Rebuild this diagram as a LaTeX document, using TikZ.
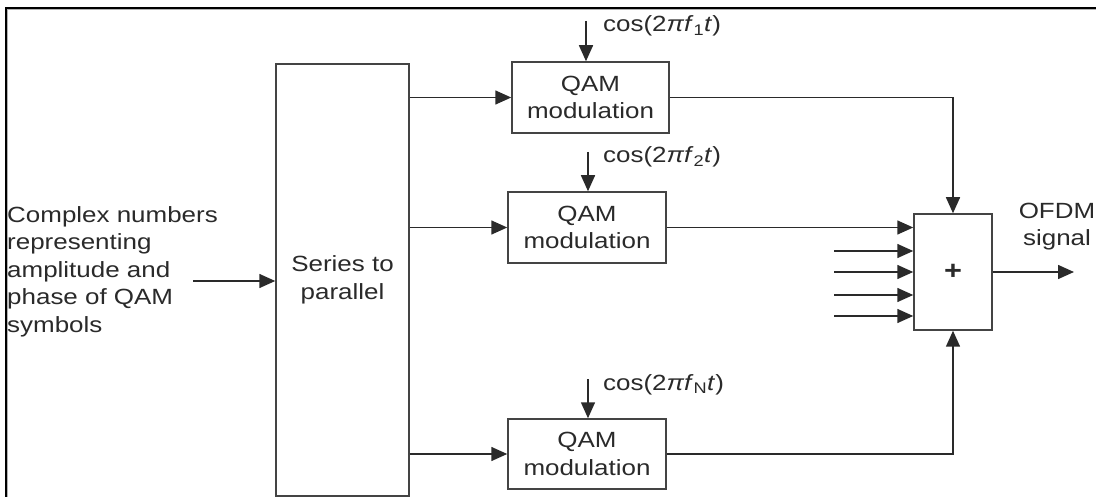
\documentclass[tikz,border=0pt]{standalone}
\usepackage{fontspec}
\setmainfont{Liberation Sans}[FakeStretch=1.18]
\usetikzlibrary{arrows.meta}
\definecolor{ink}{HTML}{2A2A2A}
\definecolor{boxline}{HTML}{444444}
\newcommand\dfont{\fontsize{22}{27.5}\selectfont}
\begin{document}
\begin{tikzpicture}[x=1pt,y=-1pt,
  blk/.style={draw=boxline, line width=1.5pt, inner sep=0pt, align=center,
              font=\dfont, text=ink},
  lbl/.style={inner sep=0pt, font=\dfont, text=ink},
  wire/.style={draw=ink, line width=1.5pt},
  arr/.style={wire, -{Triangle[length=16pt,width=14pt]}}]
\useasboundingbox (0,0) rectangle (1096,497);
\fill[white] (0,0) rectangle (1096,497);

% outer frame (only top and left edges are inside the page)
\draw[gray!60, line width=1pt] (7.8,497) -- (7.8,9.8) -- (1096,9.8);
\draw[black, line width=2.2pt] (6,497) -- (6,7.8) -- (1096,7.8);

% blocks
\node[blk, minimum width=133pt, minimum height=432pt] (s2p) at (342.5,280) {Series to\\parallel};
\node[blk, minimum width=157pt, minimum height=71pt] (q1) at (590.5,97.5) {QAM\\modulation};
\node[blk, minimum width=158pt, minimum height=71pt] (q2) at (587,227.5) {QAM\\modulation};
\node[blk, minimum width=158pt, minimum height=70pt] (qN) at (587,454) {QAM\\modulation};
\node[blk, minimum width=78pt, minimum height=116pt, font=\bfseries\fontsize{26}{26}\selectfont] (sum) at (953,272) {+};

% input text and arrow
\node[lbl, anchor=north west, align=left] (src) at (7,206)
  {Complex numbers\\representing\\amplitude and\\phase of QAM\\symbols};
\coordinate (in) at (193,281);
\draw[arr] (in) -- (in -| s2p.west);

% serial-to-parallel outputs
\draw[arr] (s2p.east |- q1.west) -- (q1.west);
\draw[arr] (s2p.east |- q2.west) -- (q2.west);
\draw[arr] (s2p.east |- qN.west) -- (qN.west);

% carrier inputs
\coordinate (c1) at (586,21);
\coordinate (c2) at (588,152);
\coordinate (cN) at (588,379);
\draw[arr] (c1) -- (c1 |- q1.north);
\draw[arr] (c2) -- (c2 |- q2.north);
\draw[arr] (cN) -- (cN |- qN.north);
\node[lbl, anchor=base west] (l1) at (603,32) {cos(2\textit{πf}\textsubscript{1}\textit{t})};
\node[lbl, anchor=base west] (l2) at (603,163) {cos(2\textit{πf}\textsubscript{2}\textit{t})};
\node[lbl, anchor=base west] (lN) at (603,390) {cos(2\textit{πf}\textsubscript{N}\textit{t})};

% modulator outputs into the adder
\draw[arr] (q1.east) -| (sum.north);
\draw[arr] (q2.east) -- (q2.east -| sum.west);
\draw[arr] (qN.east) -| (sum.south);
\foreach \yy [count=\i] in {251,272,295,316}{
  \coordinate (s\i) at (834,\yy);
  \draw[arr] (s\i) -- (s\i -| sum.west);
}

% output
\coordinate (out) at (1074,272);
\draw[arr] (sum.east) -- (out);
\node[lbl, anchor=north, align=center] (ofdm) at (1057,202.5) {OFDM\\signal};
\end{tikzpicture}
\end{document}
